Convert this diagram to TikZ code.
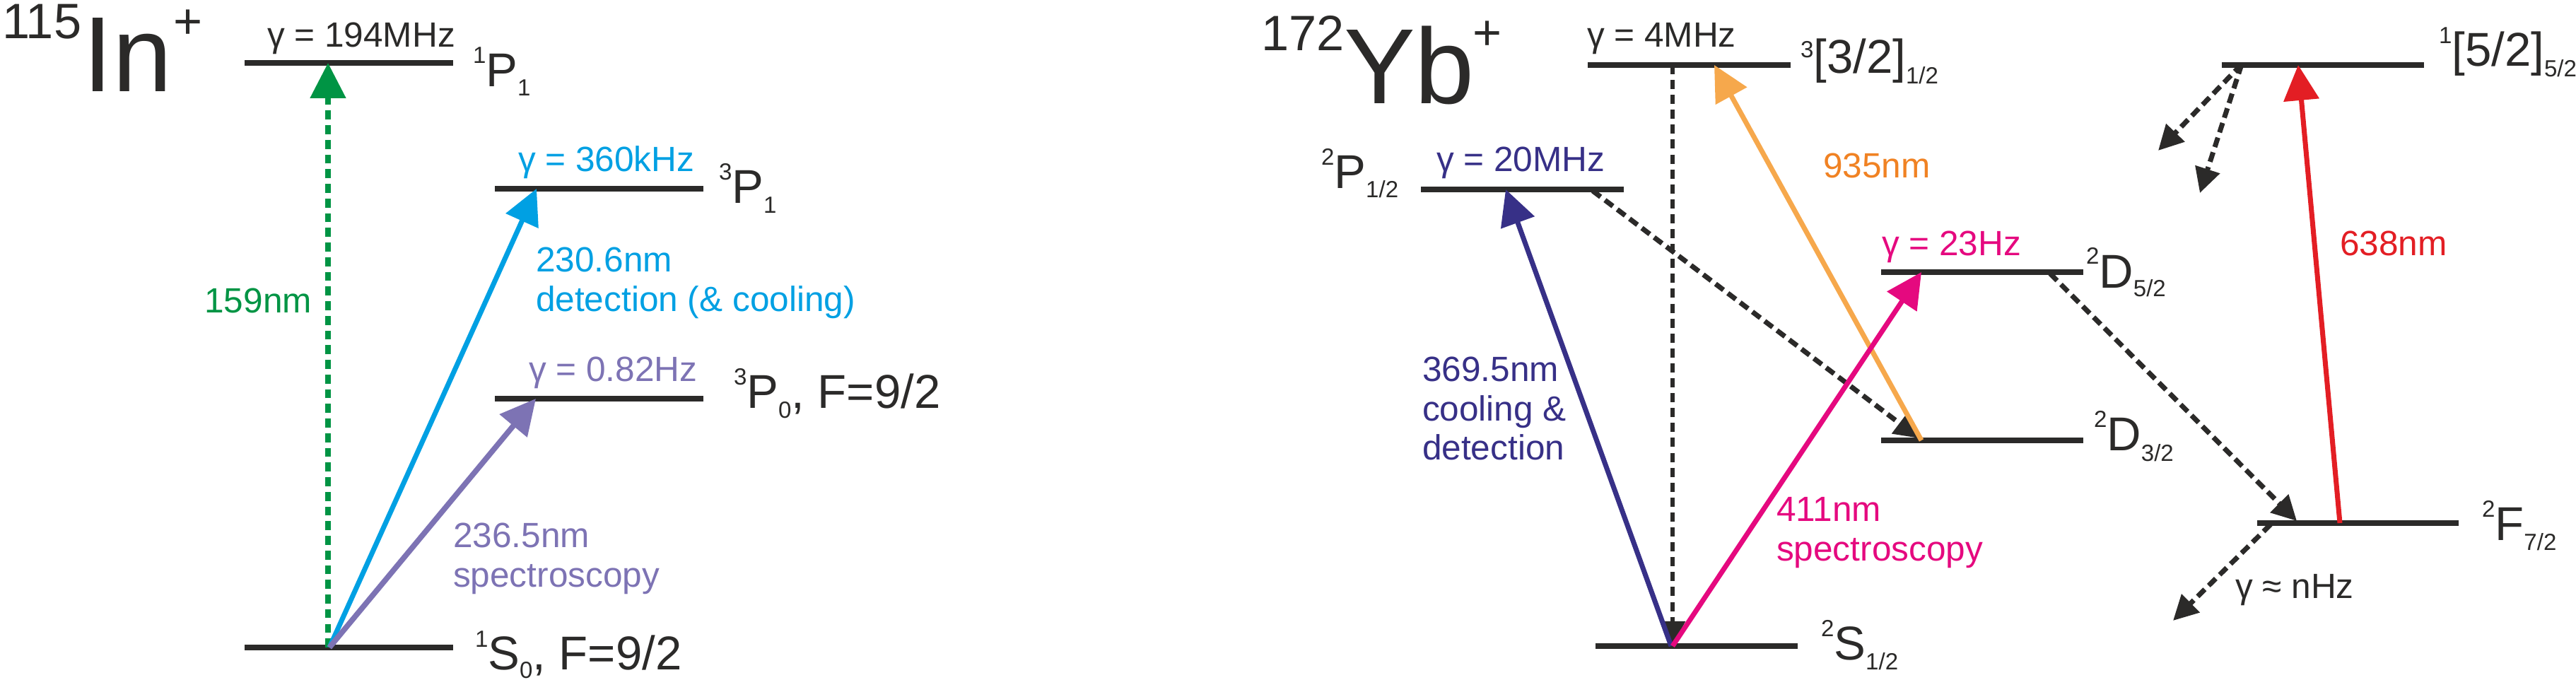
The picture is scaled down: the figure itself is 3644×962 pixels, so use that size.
\documentclass[tikz,border=0pt]{standalone}
\usepackage{fontspec}
\setmainfont{Liberation Sans}
\usetikzlibrary{arrows.meta}
\definecolor{ink}{RGB}{43,42,41}
\definecolor{cgreen}{RGB}{0,148,68}
\definecolor{ccyan}{RGB}{0,160,227}
\definecolor{cpurple}{RGB}{125,115,180}
\definecolor{cnavy}{RGB}{55,48,135}
\definecolor{cpink}{RGB}{229,9,127}
\definecolor{corange}{RGB}{246,168,76}
\definecolor{corangetxt}{RGB}{240,130,35}
\definecolor{cred}{RGB}{227,30,36}
\newcommand\Lvl[5]{\raisebox{#1}{\fontsize{9.4}{11}\selectfont #3}#4\raisebox{-#2}{\fontsize{9.4}{11}\selectfont #5}}
\newcommand\TwoL[2]{\vtop{\hbox{#1}\hbox{#2}}}
\newcommand\ThreeL[3]{\vtop{\hbox{#1}\hbox{#2}\hbox{#3}}}
\begin{document}
\begin{tikzpicture}[x=0.01cm,y=-0.01cm,
  lvlbar/.style={fill=ink, inner sep=0, outer sep=0, minimum height=0.085cm, minimum width=#1},
  lab/.style={inner sep=0, outer sep=0, anchor=base west, font=\fontsize{14.1}{15.7}\selectfont},
  st/.style={inner sep=0, outer sep=0, anchor=base west, text=ink, font=\fontsize{19.1}{22}\selectfont},
  big/.style={inner sep=0, outer sep=0, anchor=base west, text=ink, font=\fontsize{43}{50}\selectfont},
  small/.style={inner sep=0, outer sep=0, anchor=base west, text=ink, font=\fontsize{20}{24}\selectfont},
  carr/.style={line width=2pt, -{Triangle[length=14.2pt,width=14pt]}},
  darr/.style={ink, line width=2pt, dash pattern=on 4pt off 2.2pt, -{Triangle[length=10pt,width=10pt]}},
]
\useasboundingbox (0,0) rectangle (3644,962);

% ---------------- In+ ----------------
\node[small] (t115) at (3,55) {115};
\node[big] (tIn) at (117,130) {In};
\node[small] (tInp) at (245,55) {+};

\node[lvlbar=2.95cm] (In1P1) at (493.5,89) {};
\node[lvlbar=2.95cm] (In3P1) at (847.5,267) {};
\node[lvlbar=2.95cm] (In3P0) at (847.5,564) {};
\node[lvlbar=2.95cm] (In1S0) at (493.5,916) {};

\node[lab, text=ink] (g194) at (378,67) {γ = 194MHz};
\node[lab, text=ccyan] (g360) at (733,243) {γ = 360kHz};
\node[lab, text=cpurple] (g082) at (748,540) {γ = 0.82Hz};

\node[st] (l1P1) at (669,123) {\Lvl{9.4pt}{3.7pt}{1}{P}{1}};
\node[st] (l3P1) at (1017,288) {\Lvl{9.4pt}{3.9pt}{3}{P}{1}};
\node[st] (l3P0) at (1038,578) {\Lvl{9.4pt}{3.9pt}{3}{P}{0}, F=9/2};
\node[st] (l1S0) at (672,948) {\Lvl{9.2pt}{3.3pt}{1}{S}{0}, F=9/2};

\node[lab, text=cgreen, anchor=base east] (w159) at (441,443) {159nm};
\node[lab, text=ccyan] (w230) at (758,385) {\TwoL{230.6nm}{detection (\& cooling)}};
\node[lab, text=cpurple] (w236) at (641,775) {\TwoL{236.5nm}{spectroscopy}};

\coordinate (gA) at (464,916);
\coordinate (gB) at (464,89);
\coordinate (cA) at (466,916);
\coordinate (cB) at (759,267);
\coordinate (pA) at (466,916);
\coordinate (pB) at (758,564);

\draw[carr, cgreen, line width=2.1pt, dash pattern=on 3.6pt off 2.3pt] (gA) -- (gB);
\draw[carr, ccyan] (cA) -- (cB);
\draw[carr, cpurple, line width=2.2pt] (pA) -- (pB);

% ---------------- Yb+ ----------------
\node[small] (t172) at (1784,72) {172};
\node[big] (tYb) at (1901,147) {Yb};
\node[small] (tYbp) at (2083,71) {+};

\node[lvlbar=2.87cm] (Yb3h) at (2389.5,92) {};
\node[lvlbar=2.87cm] (Yb2P) at (2153.5,268) {};
\node[lvlbar=2.86cm] (Yb2D5) at (2804,385) {};
\node[lvlbar=2.86cm] (Yb2D3) at (2804,623) {};
\node[lvlbar=2.85cm] (Yb2F) at (3335.5,740) {};
\node[lvlbar=2.86cm] (Yb1h) at (3286,92) {};
\node[lvlbar=2.86cm] (Yb2S) at (2400,914) {};

\node[lab, text=ink] (g4) at (2245,67) {γ = 4MHz};
\node[lab, text=cnavy] (g20) at (2032,243) {γ = 20MHz};
\node[lab, text=cpink] (g23) at (2662,362) {γ = 23Hz};
\node[lab, text=ink] (gn) at (3162,847) {γ ≈ nHz};

\node[st] (l3h) at (2547,104) {\Lvl{6.3pt}{4pt}{3}{[3/2]}{1/2}};
\node[st] (l2P) at (1869,267) {\Lvl{9.6pt}{3.7pt}{2}{P}{1/2}};
\node[st] (l2D5) at (2951,408) {\Lvl{9.8pt}{3.4pt}{2}{D}{5/2}};
\node[st] (l2D3) at (2962,638) {\Lvl{9.4pt}{4pt}{2}{D}{3/2}};
\node[st] (l2F) at (3511,765) {\Lvl{9.4pt}{3.7pt}{2}{F}{7/2}};
\node[st] (l1h) at (3450,94) {\Lvl{9.1pt}{4pt}{1}{[5/2]}{5/2}};
\node[st] (l2S) at (2576,934) {\Lvl{9.6pt}{3.7pt}{2}{S}{1/2}};

\node[lab, text=cnavy] (w369) at (2012,540) {\ThreeL{369.5nm}{cooling \&}{detection}};
\node[lab, text=corangetxt] (w935) at (2579,252) {935nm};
\node[lab, text=cpink] (w411) at (2513,738) {\TwoL{411nm}{spectroscopy}};
\node[lab, text=cred] (w638) at (3310,362) {638nm};

% decay (dashed) arrows
\coordinate (d1A) at (2366,92);   \coordinate (d1B) at (2366,914);
\coordinate (d2A) at (2253,270);  \coordinate (d2B) at (2715,620);
\coordinate (d3A) at (2900,387);  \coordinate (d3B) at (3249,737);
\coordinate (d4A) at (3171,91);   \coordinate (d4B) at (3053,213);
\coordinate (d5A) at (3171,91);   \coordinate (d5B) at (3112,273);
\coordinate (d6A) at (3212,742);  \coordinate (d6B) at (3074,878);

\draw[darr, line width=1.6pt, dash pattern=on 3.7pt off 2.3pt] (d1A) -- (d1B);
\draw[darr] (d2A) -- (d2B);
\draw[darr] (d3A) -- (d3B);
\draw[darr] (d4A) -- (d4B);
\draw[darr] (d5A) -- (d5B);
\draw[darr] (d6A) -- (d6B);

% laser arrows
\coordinate (nA) at (2364,914);  \coordinate (nB) at (2130,268);
\coordinate (oA) at (2718,623);  \coordinate (oB) at (2425,92);
\coordinate (kA) at (2366,914);  \coordinate (kB) at (2718,385);
\coordinate (rA) at (3310,740);  \coordinate (rB) at (3251,92);

\draw[carr, cnavy] (nA) -- (nB);
\draw[carr, corange] (oA) -- (oB);
\draw[carr, cpink] (kA) -- (kB);
\draw[carr, cred] (rA) -- (rB);
\end{tikzpicture}
\end{document}
